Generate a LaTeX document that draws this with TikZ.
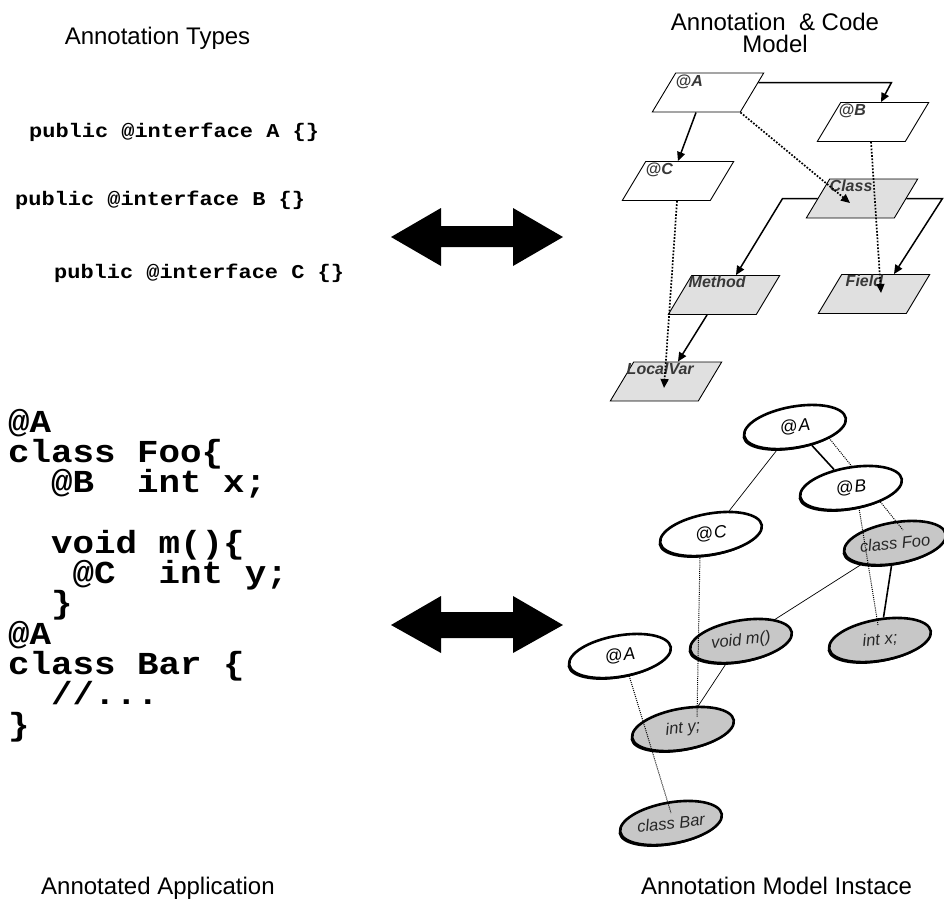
\documentclass[tikz,border=0pt]{standalone}
\usepackage{fontspec}
\setmainfont{Liberation Sans}
\newfontfamily\codefont[FakeStretch=1.12]{Liberation Mono}
\usetikzlibrary{calc,arrows.meta,shadows,shapes.geometric}
\pgfdeclarelayer{bgl}
\pgfdeclarelayer{grayl}
\pgfdeclarelayer{linel}
\pgfsetlayers{bgl,grayl,linel,main}
\newcommand\eltext[1]{\rotatebox{-4}{#1}}
\tikzset{
  para/.style={draw=black, line width=0.9pt, fill=white, xslant=0.6, minimum width=88pt, minimum height=39pt, inner sep=0pt},
  paragray/.style={para, fill=black!12},
  plabel/.style={font=\fontsize{16}{16}\selectfont\bfseries\itshape, text=black!78, inner sep=0pt, anchor=north west},
  arr/.style={line width=1.5pt, -{Triangle[length=9pt,width=8pt]}},
  darr/.style={line width=1.7pt, dash pattern=on 1.7pt off 1.6pt, -{Triangle[length=9pt,width=8pt]}},
  ell/.style={ellipse, draw=black, line width=2.6pt, minimum width=103pt, minimum height=41pt, inner sep=0pt, rotate=10, fill=white, drop shadow={shadow xshift=-1.6pt, shadow yshift=-1.8pt, fill=black, opacity=1}},
  ellgray/.style={ell, fill=black!22},
  elabel/.style={font=\fontsize{16.5}{16.5}\selectfont\itshape, text=black!85},
  alabel/.style={font=\fontsize{17.5}{17.5}\selectfont\itshape, text=black},
  thinl/.style={line width=0.7pt},
  medl/.style={line width=1.6pt},
  dotl/.style={line width=1pt, dash pattern=on 1pt off 1.1pt},
  title/.style={font=\fontsize{24}{24}\selectfont, inner sep=0pt},
  code/.style={font=\codefont\bfseries\fontsize{32}{30}\selectfont, inner sep=0pt, anchor=base west},
  scode/.style={font=\codefont\bfseries\fontsize{19.6}{20}\selectfont, inner sep=0pt, anchor=base west},
}
\begin{document}
\begin{tikzpicture}[x=1pt, y=-1pt]
\begin{pgfonlayer}{bgl}
\fill[white] (0,0) rectangle (944,900);
\end{pgfonlayer}
\useasboundingbox (0,0) rectangle (944,900);

% titles
\node[title, anchor=base] (tTypes) at (157.5,44) {Annotation Types};
\node[title, anchor=base] (tModel1) at (775,30) {Annotation\ \ \& Code};
\node[title, anchor=base] (tModel2) at (775,52) {Model};
\node[title, anchor=base west] (tApp) at (41,894) {Annotated Application};
\node[title, anchor=base west] (tInst) at (641,894) {Annotation Model Instace};

% small code
\node[scode] (s1) at (29,137) {public @interface A \{\}};
\node[scode] (s2) at (15,205) {public @interface B \{\}};
\node[scode] (s3) at (54,278) {public @interface C \{\}};

% big code
\node[code] (c1) at (8,432) {@A};
\node[code] (c2) at (8,462.3) {class Foo\{};
\node[code] (c3) at (8,492.6) {~~@B~~int x;};
\node[code] (c4) at (8,553.2) {~~void m()\{};
\node[code] (c5) at (8,583.5) {~~~@C~~int y;};
\node[code] (c6) at (8,613.8) {~~\}};
\node[code] (c7) at (8,644.1) {@A};
\node[code] (c8) at (8,674.4) {class Bar \{};
\node[code] (c9) at (8,704.7) {~~//...};
\node[code] (c10) at (8,735) {\}};

% big double arrows
\fill (391,237) -- (441,208) -- (441,226) -- (513,226) -- (513,208) -- (563,237)
  -- (513,266) -- (513,247) -- (441,247) -- (441,266) -- cycle;
\fill (391,625) -- (441,596) -- (441,612) -- (513,612) -- (513,596) -- (563,625)
  -- (513,653) -- (513,638) -- (441,638) -- (441,653) -- cycle;

% annotation & code model
\node[para] (pA) at (708,92.5) {};
\node[para] (pB) at (873,122) {};
\node[para] (pC) at (678,181) {};
\node[paragray] (pClass) at (862,198.5) {};
\node[paragray] (pMethod) at (724,295) {};
\node[paragray] (pField) at (874,294) {};
\node[paragray] (pLocal) at (666,381.5) {};

\node[plabel] (lA) at ($(pA.north west)+(0,2)$) {@A};
\node[plabel] (lB) at ($(pB.north west)+(-2,2)$) {@B};
\node[plabel] (lC) at ($(pC.north west)+(0,2)$) {@C};
\node[plabel] (lClass) at ($(pClass.north west)+(0,1)$) {Class};
\node[plabel] (lMethod) at ($(pMethod.north west)+(-3,1)$) {Method};
\node[plabel] (lField) at ($(pField.north west)+(4,1)$) {Field};
\node[plabel] (lLocal) at ($(pLocal.north west)+(-7,1)$) {LocalVar};

\draw[arr] (pA.south) -- ($(pC.north)+(-12,0)$);
\draw[arr] ($(pA.north east)!0.25!(pA.south east)$) -- ++(133,0) -- ($(pB.north)+(-4,0)$);
\draw[darr] (pA.south east) -- ($(pClass.center)+(-12,4.5)$);
\draw[darr] ($(pB.south)+(10,0)$) -- ($(pField.center)+(7,-1)$);
\draw[darr] ($(pC.south)+(11,0)$) -- ($(pLocal.center)+(-2,6.5)$);
\draw[arr] (pClass.west) -- ++(-35,0) -- (pMethod.north);
\draw[arr] (pClass.east) -- ++(36,0) -- ($(pField.north)+(8,0)$);
\draw[arr] ($(pMethod.south)+(-5,0)$) -- (pLocal.north);

% annotation model instance
\begin{pgfonlayer}{grayl}
\node[ellgray, elabel] (eFoo) at (895,543) {\eltext{class Foo}};
\node[ellgray, elabel] (eM) at (741,641) {\eltext{void m()}};
\node[ellgray, elabel] (eX) at (880,640) {\eltext{int x;}};
\node[ellgray, elabel] (eY) at (683,729) {\eltext{int y;}};
\node[ellgray, elabel] (eBar) at (671,823) {\eltext{class Bar}};
\end{pgfonlayer}
\node[ell, alabel] (eA) at (795,427) {\eltext{@\kern1pt A}};
\node[ell, alabel] (eB) at (851,488) {\eltext{@\kern1pt B}};
\node[ell, alabel] (eC) at (711,534) {\eltext{@\kern1pt C}};
\node[ell, alabel] (eA2) at (620,656) {\eltext{@\kern1pt A}};
\begin{pgfonlayer}{linel}
\draw[medl] (eA) -- (eB);
\draw[thinl] (eA) -- (eC);
\draw[dotl] ($(eA.center)+(34,11)$) -- ($(eFoo.center)+(8,-13)$);
\draw[dotl] ($(eB.center)+(8,20)$) -- ($(eX.center)+(-2,-15)$);
\draw[medl] (eFoo) -- (eX);
\draw[thinl] (eFoo) -- (eM);
\draw[dotl] ($(eC.center)+(-11,20)$) -- ($(eY.center)+(14,-12)$);
\draw[thinl] (eM) -- (eY);
\draw[dotl] ($(eA2.center)+(8,16)$) -- ($(eBar.center)+(0,-10)$);
\end{pgfonlayer}
\end{tikzpicture}
\end{document}
